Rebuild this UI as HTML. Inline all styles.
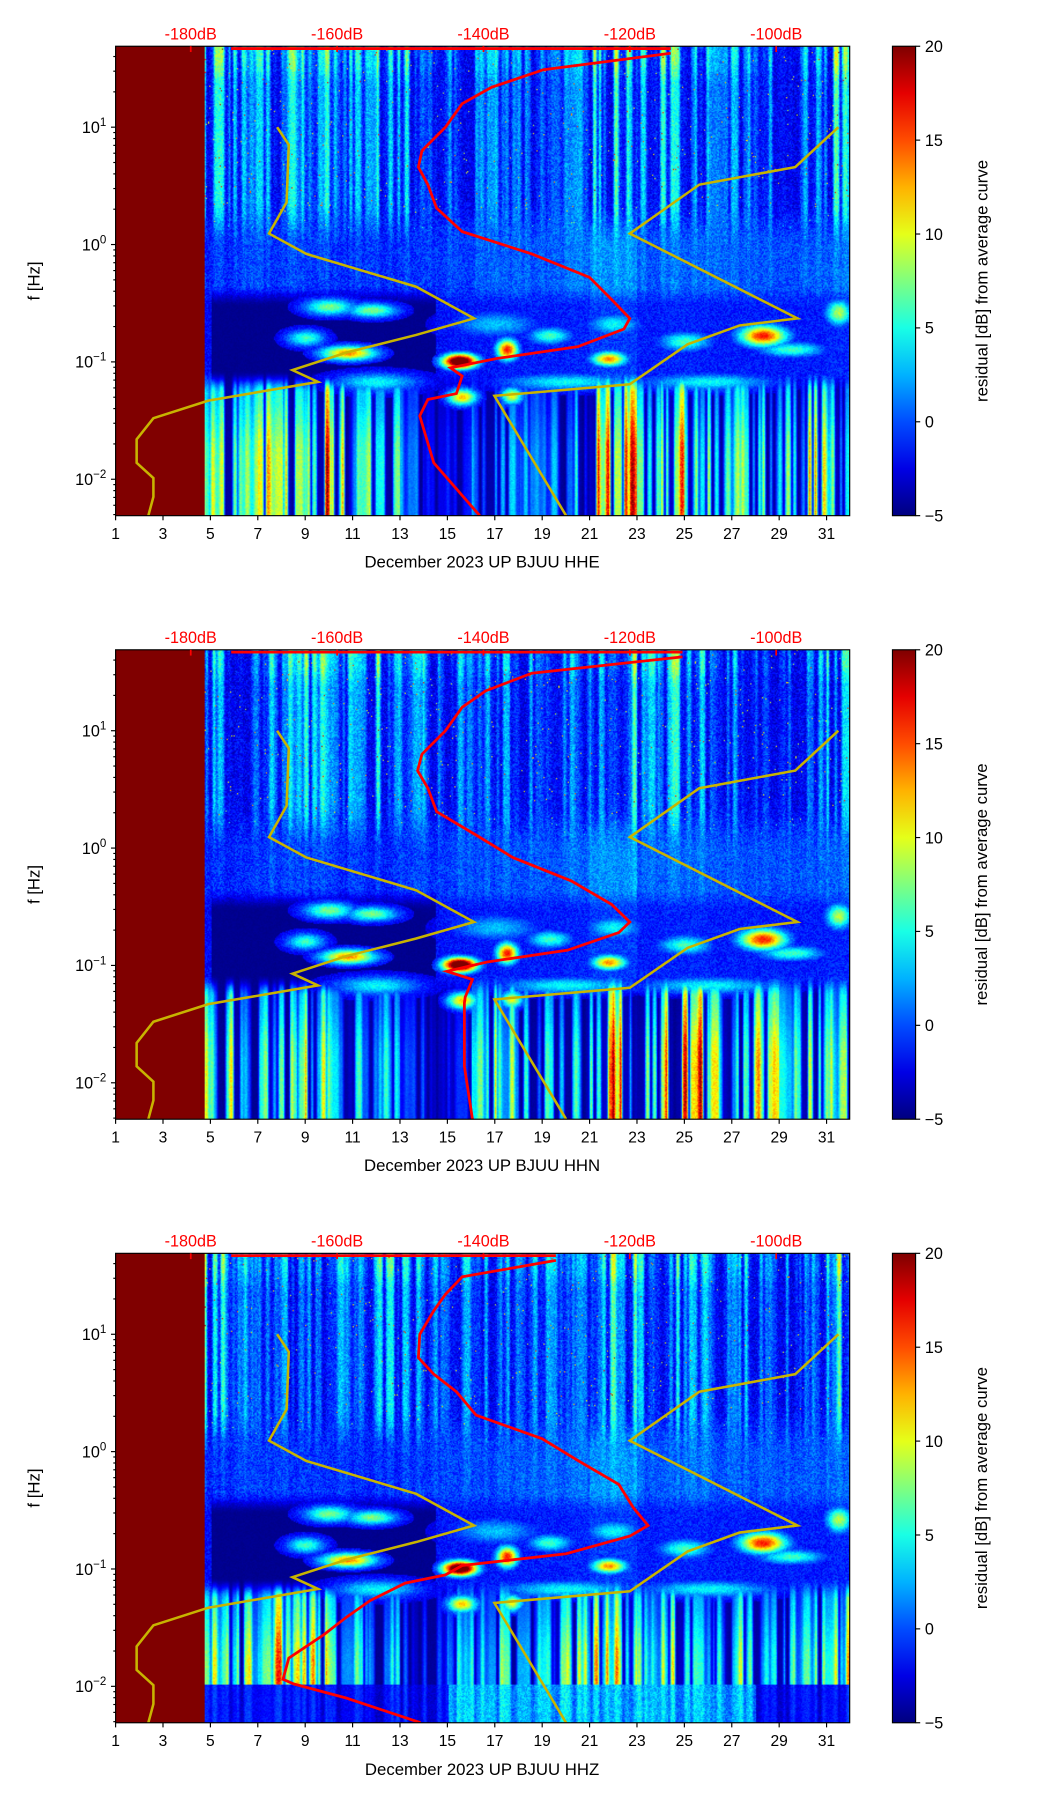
<!DOCTYPE html>
<html><head><meta charset="utf-8">
<style>
html,body{margin:0;padding:0;background:#fff;}
#root{position:relative;width:910px;height:1562px;transform:scale(1.15604,1.15621);transform-origin:0 0;font-family:"Liberation Sans","DejaVu Sans",sans-serif;}
canvas{position:absolute;}
svg{position:absolute;left:0;top:0;}
</style></head>
<body>
<div id="root">
<canvas id="c0" width="635" height="406" style="left:100px;top:40px"></canvas>
<canvas id="c1" width="635" height="406" style="left:100px;top:562px"></canvas>
<canvas id="c2" width="635" height="406" style="left:100px;top:1084px"></canvas>
<svg id="ov" width="910" height="1562" viewBox="0 0 910 1562"></svg>
</div>
<script>
// ---- data ----
const channels = ["HHE","HHN","HHZ"];
const dayTicks = [1,3,5,7,9,11,13,15,17,19,21,23,25,27,29,31];
const dbTicks = [-180,-160,-140,-120,-100];
const cbTicks = [20,15,10,5,0,-5];
// Noise models (dB vs log10 f)
const nlnmLogF = [1,0.85,0.36,0.094,-0.08,-0.36,-0.63,-0.77,-0.92,-1.07,-1.17,-1.33,-1.48,-1.66,-1.86,-1.99,-2.15,-2.31];
const nlnmDb = [-168.2,-166.6,-166.9,-169.3,-164.2,-149.2,-141.3,-149.2,-158.7,-166.1,-162.6,-177.6,-185.1,-187.4,-187.4,-185.1,-185.1,-185.8];
const nhnmLogF = [1,0.66,0.51,0.094,-0.63,-0.69,-0.85,-1.19,-1.29,-2.31];
const nhnmDb = [-91.5,-97.4,-110.5,-120,-97.1,-105,-112.1,-120,-138.5,-128.7];
// Per-channel average curves
const avgLogFHHE = [1.63,1.49,1.34,1.2,1,0.8,0.66,0.51,0.31,0.11,-0.08,-0.28,-0.48,-0.63,-0.72,-0.87,-0.97,-1.05,-1.12,-1.27,-1.32,-1.46,-1.86,-2.31];
const avgDbHHE = [-114.4,-131.8,-138.9,-142.9,-145.2,-148.4,-148.9,-147.6,-146.4,-142.9,-133.4,-125.5,-122.3,-120,-120.8,-127.1,-138.1,-144.5,-142.9,-143.7,-147.6,-148.7,-146.8,-140.5];
const avgLogFHHN = [1.63,1.49,1.34,1.2,1,0.8,0.66,0.51,0.31,0.11,-0.08,-0.28,-0.48,-0.63,-0.72,-0.87,-0.97,-1.05,-1.12,-1.27,-1.32,-1.46,-1.86,-2.31];
const avgDbHHN = [-112.8,-133.4,-139.7,-142.9,-145.2,-148.4,-149,-147.6,-146.4,-141,-136,-128,-122.5,-120,-121.5,-128.5,-139.5,-145,-141.5,-142.5,-142.6,-142.6,-142.6,-141.5];
const avgLogFHHZ = [1.63,1.49,1.34,1.2,1,0.8,0.66,0.51,0.31,0.11,-0.08,-0.28,-0.48,-0.63,-0.72,-0.87,-0.97,-1.05,-1.12,-1.27,-1.41,-1.56,-1.76,-1.94,-1.98,-2.1,-2.31];
const avgDbHHZ = [-130.1,-142.9,-145.2,-146.8,-148.7,-148.9,-146.8,-143.7,-141,-132,-127,-121.5,-119.5,-117.5,-120,-128.7,-142.9,-145.2,-150.7,-155.5,-158.7,-161.8,-166.6,-167.4,-165.9,-158.7,-148.6];
const avgLogF = [avgLogFHHE,avgLogFHHN,avgLogFHHZ];
const avgDb = [avgDbHHE,avgDbHHN,avgDbHHZ];

// ---- axis functions (910-wide coordinate space) ----
const PX0=100, PH=406;
const panelTop=[40,562,1084];
const xDay = d => PX0 + (d-1)*20.5;
const xDb = v => 165 + (v+180)*6.33;
const yLog = (lf,p) => panelTop[p] + 70 - (lf-1)*101.5;
const cbY = (v,p) => panelTop[p] + (20-v)/25*PH;

// ---- jet colormap ----
function jet(t){t=Math.max(0,Math.min(1,t));
 const r=Math.min(1,Math.max(0,1.5-Math.abs(4*t-3))),g=Math.min(1,Math.max(0,1.5-Math.abs(4*t-2))),b=Math.min(1,Math.max(0,1.5-Math.abs(4*t-1)));
 return [r*255|0,g*255|0,b*255|0];}
// ---- decorative spectrogram texture (deterministic) ----
function rng(s){return function(){s|=0;s=s+0x6D2B79F5|0;let t=Math.imul(s^s>>>15,1|s);t=t+Math.imul(t^t>>>7,61|t)^t;return((t^t>>>14)>>>0)/4294967296;}}
const lowAmpAll=[
 [0,0,0,0,0.7,0.6,0.6,0.7,0.8,0.9,0.8,0.6,0.5,0.3,0.15,0.15,0.3,0.4,0.3,0.3,0.4,0.9,0.9,0.5,0.8,0.6,0.5,0.6,0.5,0.5,0.7,0.8],
 [0,0,0,0,0.6,0.6,0.5,0.6,0.6,0.7,0.6,0.5,0.4,0.2,0.1,0.15,0.5,0.6,0.4,0.5,0.6,1.0,0.9,0.5,0.9,0.9,0.6,0.6,0.7,0.5,0.6,0.7],
 [0,0,0,0,0.6,0.6,0.6,0.8,0.7,0.7,0.6,0.5,0.4,0.2,0.2,0.4,0.4,0.5,0.5,0.5,0.6,0.8,0.8,0.5,0.6,0.5,0.5,0.6,0.5,0.5,0.6,0.7]];
const hiAmp=[0,0,0,0,0.9,0.8,0.6,0.6,0.8,0.8,0.6,0.6,0.8,0.7,0.5,0.5,0.5,0.6,0.5,0.5,0.5,0.9,0.9,0.6,0.8,0.6,0.5,0.6,0.5,0.5,0.6,0.9];
const midAmp=[0,0,0,0,0.2,0.2,0.3,0.3,0.3,0.3,0.2,0.2,0.2,0.3,0.3,0.4,0.4,0.5,0.5,0.5,0.6,0.9,0.9,0.5,0.6,0.6,0.5,0.5,0.5,0.5,0.5,0.6];
function streaks(R,W,dense){const a=new Array(W).fill(0);let x=0;while(x<W){const w=1+Math.floor(R()*4);const r=R();const v=r<(dense?0.3:0.5)?r*r*1.2:Math.min(1,0.35+R()*0.75);for(let i=0;i<w&&x<W;i++,x++)a[x]=v;}
 const b=a.slice();for(let x=1;x<W-1;x++)b[x]=0.25*a[x-1]+0.5*a[x]+0.25*a[x+1];return b;}
function sm(e0,e1,x){const t=Math.max(0,Math.min(1,(x-e0)/(e1-e0)));return t*t*(3-2*t);}
function paint(id,p){
 const cv=document.getElementById(id),ctx=cv.getContext('2d'),W=635,H=406;
 const img=ctx.createImageData(W,H),R=rng(7+p*13);
 const hi=streaks(R,W,false),lo=streaks(R,W,true),lowAmp=lowAmpAll[p];
 const blobs=[[10,225,1.2,8,7],[11.8,228,1.2,7,7],[9,252,0.9,8,6],[10.8,265,1.3,7,11],[15.5,272,0.8,7,20],[17.5,262,0.5,10,13],[15.6,303,0.7,8,10],[17.7,302,0.5,8,9],[19.3,250,1,8,6],[21.8,270,0.8,7,11],[22,240,1.2,10,5],[25,255,1.2,9,6],[28.3,250,1.1,10,13],[29.5,262,1.5,7,6],[31.5,230,0.6,12,8],[17,240,2,12,4],[20,290,3,8,5],[26,290,3,8,5],[12,290,2,9,5]];
 for(let x=0;x<W;x++){
  const day=1+x/20.5,di=Math.min(31,Math.floor(day));
  const la=lowAmp[di],ma=midAmp[di],ha=hiAmp[di];
  const quiet=(day>5&&day<14.5)?1:0;
  for(let y=0;y<H;y++){
   let v;
   if(day<4.75){v=25;}
   else{
    const n=R();
    const up=-4+hi[x]*ha*10+n*3.2+hi[x]*ha*4*(1-sm(10,35,y))+(R()<0.005?12:0);
    const mid=-3.6+n*3+ma*4+hi[x]*1.2;
    const bb=quiet? -4.8+n*0.4 : -3.5+n*2.5+ma*2;
    const lw=-4.8+n*0.5+la*lo[x]*28*(0.85+0.15*R())*(0.7+0.3*sm(290,360,y));
    const w1=sm(130,175,y),w2=sm(205,225,y),w3=sm(280,300,y);
    v=up*(1-w1)+mid*w1;
    v=v*(1-w2)+bb*w2;
    v=v*(1-w3)+lw*w3;
    if(p==2&&y>372){v=(day>15&&day<28)?-1+n*3+lo[x]*4:-4+n*1.5+lo[x]*3;}
    for(const b of blobs){const dx=(day-b[0])/b[2],dy=(y-b[1])/b[3];const d=dx*dx+dy*dy;if(d<2.2){v=Math.max(v,-4+Math.exp(-d*1.3)*b[4]*1.5+n*2);}}
   }
   const c=v>=25?[128,0,0]:jet((v+5)/25);const i=(y*W+x)*4;
   img.data[i]=c[0];img.data[i+1]=c[1];img.data[i+2]=c[2];img.data[i+3]=255;
  }}
 ctx.putImageData(img,0,0);
}
paint('c0',0);paint('c1',1);paint('c2',2);

// ---- overlay ----
const NS='http://www.w3.org/2000/svg',svg=document.getElementById('ov');
function el(tag,attrs,parent,text){const e=document.createElementNS(NS,tag);for(const k in attrs)e.setAttribute(k,attrs[k]);if(text!==undefined)e.textContent=text;(parent||svg).appendChild(e);return e;}
const defs=el('defs',{});
const lg=el('linearGradient',{id:'jetg',x1:0,y1:1,x2:0,y2:0},defs);
for(let i=0;i<=10;i++){const c=jet(i/10);el('stop',{offset:i/10,'stop-color':`rgb(${c})`},lg);}
function line(xs,ys){return xs.map((x,i)=>x.toFixed(1)+','+ys[i].toFixed(1)).join(' ');}
for(let p=0;p<3;p++){
 const T=panelTop[p],B=T+PH;
 const g=el('g',{});
 
 
 const clip=el('clipPath',{id:'cl'+p},defs);el('rect',{x:PX0,y:T,width:635,height:PH},clip);
 const cg=el('g',{'clip-path':`url(#cl${p})`},g);
 const ln=el('polyline',{points:line(nlnmDb.map(xDb),nlnmLogF.map(v=>yLog(v,p))),fill:'none',stroke:'#c8b400','stroke-width':2.2},cg);
 
 const hn=el('polyline',{points:line(nhnmDb.map(xDb),nhnmLogF.map(v=>yLog(v,p))),fill:'none',stroke:'#c8b400','stroke-width':2.2},cg);
 
 const av=el('polyline',{points:line(avgDb[p].map(xDb),avgLogF[p].map(v=>yLog(v,p))),fill:'none',stroke:'#ff0000','stroke-width':2.4},cg);
 
 const top=el('line',{x1:200,y1:T+2,x2:xDb(avgDb[p][0]),y2:T+2,stroke:'#ff0000','stroke-width':2.4},cg);
 
 el('rect',{x:PX0,y:T,width:635,height:PH,fill:'none',stroke:'#000','stroke-width':1},g);
 dayTicks.forEach(d=>{const x=xDay(d);el('line',{x1:x,y1:B,x2:x,y2:B+4,stroke:'#000'},g);
  const t=el('text',{x:x,y:B+20,'text-anchor':'middle','font-size':13.5},g,String(d));
  });
 const xl=el('text',{x:417,y:B+45,'text-anchor':'middle','font-size':14.5},g,'December 2023 UP BJUU  '+channels[p]);
 
 dbTicks.forEach(v=>{const x=xDb(v);el('line',{x1:x,y1:T,x2:x,y2:T+5,stroke:'#ff0000','stroke-width':1.5},g);
  const t=el('text',{x:x,y:T-6,'text-anchor':'middle','font-size':14,fill:'#ff0000'},g,v+'dB');
  });
 for(let e=-3;e<=1;e++){for(let m=1;m<10;m++){const lf=e+Math.log10(m);const y=yLog(lf,p);if(y<T||y>B)continue;
  el('line',{x1:PX0,y1:y,x2:PX0-(m==1?4:2),y2:y,stroke:'#000'},g);
  if(m==1){const t=el('text',{x:PX0-8,y:y+5,'text-anchor':'end','font-size':14},g);
   
   el('tspan',{},t,'10');el('tspan',{dy:-6,'font-size':10},t,e<0?'\u2212'+(-e):String(e));}}}
 const yl=el('text',{x:34,y:T+203,'text-anchor':'middle','font-size':14.5,transform:`rotate(-90 34 ${T+203})`},g,'f [Hz]');
 
 const cb=el('rect',{x:772,y:T,width:20,height:PH,fill:'url(#jetg)',stroke:'#000','stroke-width':1},g);
 
 cbTicks.forEach(v=>{const y=cbY(v,p);el('line',{x1:792,y1:y,x2:796,y2:y,stroke:'#000'},g);
  const t=el('text',{x:800,y:y+5,'font-size':14},g,v<0?'\u2212'+(-v):String(v));
  });
 const ct=el('text',{x:854,y:T+203,'text-anchor':'middle','font-size':14.5,transform:`rotate(-90 854 ${T+203})`},g,'residual [dB] from average curve');
 
}
</script>
</body></html>
